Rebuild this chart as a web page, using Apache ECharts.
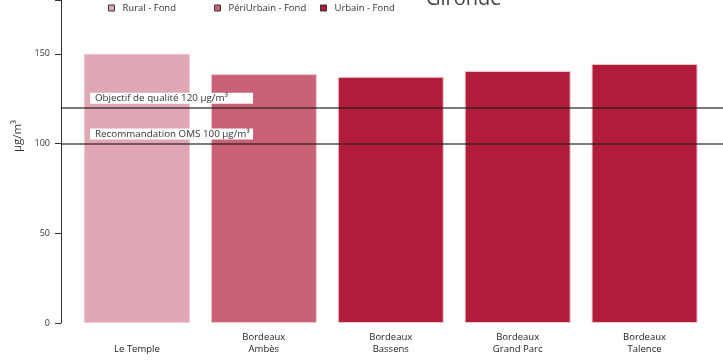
<!DOCTYPE html>
<html>
<head>
<meta charset="utf-8">
<script src="https://cdn.jsdelivr.net/npm/echarts@6/dist/echarts.min.js"></script>
<style>html,body{margin:0;padding:0;background:#fff;}#c{width:723px;height:360px;}</style>
</head>
<body>
<div id="c"></div>
<script>
var categories = ['Le Temple', 'Bordeaux\nAmbès', 'Bordeaux\nBassens', 'Bordeaux\nGrand Parc', 'Bordeaux\nTalence'];
var values = [150, 138.7, 137.2, 140.5, 144.4];
var siteTypes = ['Rural - Fond', 'PériUrbain - Fond', 'Urbain - Fond', 'Urbain - Fond', 'Urbain - Fond'];
var seriesNames = ['Rural - Fond', 'PériUrbain - Fond', 'Urbain - Fond'];
var seriesColors = ['#e0a6b3', '#c96276', '#b11c3b'];
var thresholds = [120, 100];
var thresholdLabels = ['Objectif de qualité 120 µg/m³', 'Recommandation OMS 100 µg/m³'];
var yTicks = [0, 50, 100, 150];

var FONT = 'Open Sans';
var series = seriesNames.map(function (name, k) {
  return {
    name: name,
    type: 'bar',
    stack: 'all',
    xAxisIndex: 0,
    yAxisIndex: 0,
    barWidth: 106,
    itemStyle: { color: seriesColors[k], borderColor: '#f2c9d2', borderWidth: 1 },
    data: values.map(function (v, i) { return siteTypes[i] === name ? v : null; })
  };
});
series.push({
  type: 'line',
  xAxisIndex: 1,
  yAxisIndex: 1,
  data: [],
  z: 10,
  markLine: {
    symbol: 'none',
    silent: true,
    lineStyle: { color: 'rgba(30,30,30,0.78)', width: 1.5, type: 'solid' },
    label: {
      position: 'insideStartTop',
      distance: [29, 4],
      backgroundColor: '#fff',
      padding: [1, 5, 0, 5],
      width: 153,
      fontFamily: FONT,
      fontSize: 9.8,
      lineHeight: 10,
      color: '#333',
      align: 'left'
    },
    data: thresholds.map(function (t, i) {
      return { yAxis: t, label: { formatter: thresholdLabels[i] } };
    })
  }
});

var legendLefts = [103, 209, 315];
var legends = seriesNames.map(function (name, k) {
  return {
    left: legendLefts[k],
    top: -2,
    data: [name],
    icon: 'rect',
    itemWidth: 6,
    itemHeight: 6,
    itemStyle: { borderColor: '#333', borderWidth: 1 },
    textStyle: { fontFamily: FONT, fontSize: 9.5, color: '#333', padding: [0, 0, 0, 3] },
    selectedMode: false
  };
});

var yAxisCommon = {
  type: 'value',
  min: 0,
  max: 180,
  interval: 50,
  splitLine: { show: false }
};

var chart = echarts.init(document.getElementById('c'));
chart.setOption({
  animation: false,
  backgroundColor: '#fff',
  title: {
    text: 'Gironde',
    left: 421,
    top: -16,
    textStyle: { fontFamily: FONT, fontSize: 20, fontWeight: 'normal', color: '#444' }
  },
  legend: legends,
  grid: [
    { left: 73.5, right: 15, top: -1, bottom: 37 },
    { left: 61, right: 0, top: -1, bottom: 37 }
  ],
  xAxis: [
    {
      type: 'category',
      gridIndex: 0,
      data: categories,
      axisLine: { show: false },
      axisTick: { show: false },
      axisLabel: {
        interval: 0,
        verticalAlign: 'bottom',
        margin: 32,
        fontFamily: FONT,
        fontSize: 9.5,
        lineHeight: 12,
        color: '#222'
      }
    },
    { type: 'value', gridIndex: 1, min: 0, max: 1, show: false }
  ],
  yAxis: [
    Object.assign({ gridIndex: 0, show: false }, yAxisCommon),
    Object.assign({
      gridIndex: 1,
      axisLine: { show: true, lineStyle: { color: '#333', width: 1 } },
      axisTick: { show: true, length: 6, lineStyle: { color: '#333' } },
      axisLabel: {
        margin: 11,
        fontFamily: FONT,
        fontSize: 9,
        color: '#333',
        formatter: function (v) { return yTicks.indexOf(v) >= 0 ? String(v) : ''; }
      }
    }, yAxisCommon)
  ],
  graphic: [{
    type: 'text',
    x: 18,
    y: 136,
    rotation: Math.PI / 2,
    style: {
      text: 'µg/m³',
      fontFamily: FONT,
      fontSize: 11.5,
      fill: '#333',
      textAlign: 'center',
      textVerticalAlign: 'middle'
    }
  }],
  series: series
});
</script>
</body>
</html>
